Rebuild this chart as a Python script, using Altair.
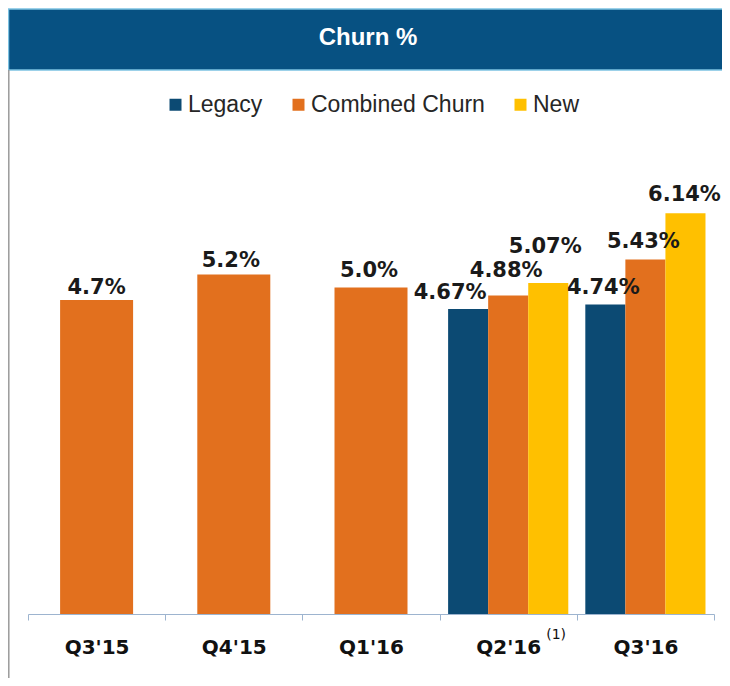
import altair as alt
import pandas as pd

# ---- data ----
TITLE = "Churn %"
quarters = ["Q3'15", "Q4'15", "Q1'16", "Q2'16", "Q3'16"]
series = ["Legacy", "Combined Churn", "New"]
colors = ["#0C4A73", "#E2701E", "#FFC000"]

legacy = [None, None, None, 4.67, 4.74]
legacy_labels = [None, None, None, "4.67%", "4.74%"]
combined = [4.81, 5.2, 5.0, 4.88, 5.43]
combined_labels = ["4.7%", "5.2%", "5.0%", "4.88%", "5.43%"]
new = [None, None, None, 5.07, 6.14]
new_labels = [None, None, None, "5.07%", "6.14%"]
footnote_quarter = "Q2'16"
footnote_text = "(1)"

rows = []
for i, q in enumerate(quarters):
    grouped = legacy[i] is not None
    for s, vals, labs in [("Legacy", legacy, legacy_labels),
                          ("Combined Churn", combined, combined_labels),
                          ("New", new, new_labels)]:
        if vals[i] is not None:
            rows.append({"quarter": q, "series": s, "value": vals[i],
                         "label": labs[i], "grouped": grouped})
df = pd.DataFrame(rows)
single = df[~df["grouped"]]
multi = df[df["grouped"]]

# ---- styling ----
LABEL_FONT = "DejaVu Sans"
NUDGE_DEFAULT = (-2, -11)
NUDGE = {"4.67%": (-18, -10), "4.88%": (-2, -18), "5.07%": (-3, -30),
         "4.7%": (0, -6), "5.2%": (-3, -8), "6.14%": (-1, -12)}

X = alt.X("quarter:N",
          scale=alt.Scale(domain=quarters, paddingInner=0, paddingOuter=0),
          axis=alt.Axis(title=None, labelAngle=0, domainColor="#9DB4CF",
                        domainWidth=1.2, tickColor="#9DB4CF", tickSize=6,
                        tickBand="extent", labelFont=LABEL_FONT,
                        labelFontSize=20, labelFontWeight="bold",
                        labelColor="#111111", labelBaseline="alphabetic",
                        labelPadding=33, grid=False))
Y = alt.Y("value:Q", scale=alt.Scale(domain=[0, 7], nice=False, zero=True),
          axis=None)
XO = alt.XOffset("series:N",
                 scale=alt.Scale(domain=series, paddingInner=0,
                                 paddingOuter=0.2125))
COLOR = alt.Color("series:N",
                  scale=alt.Scale(domain=series, range=colors),
                  legend=alt.Legend(title=None, orient="none",
                                    direction="horizontal",
                                    legendX=136, legendY=-64,
                                    symbolType="square", symbolSize=144,
                                    symbolStrokeWidth=0, labelOffset=1,
                                    columnPadding=24, padding=0,
                                    labelLimit=0,
                                    labelFont="Liberation Sans",
                                    labelFontSize=23, labelColor="#262626",
                                    labelBaseline="middle"))

deco = pd.DataFrame({"t": [TITLE]})

title_bar = alt.Chart(deco).mark_rect(
    color="#075182", stroke="#7CC2E2", strokeWidth=1.5
).encode(x=alt.value(-19.5), x2=alt.value(720),
         y=alt.value(-148), y2=alt.value(-87))

title_text = alt.Chart(deco).mark_text(
    font="Liberation Sans", fontSize=24, fontWeight="bold", color="white",
    align="center", baseline="middle"
).encode(x=alt.value(340), y=alt.value(-119), text="t:N")

border = alt.Chart(deco).mark_rule(color="#9A9A9A", strokeWidth=1.5).encode(
    x=alt.value(-19.2), y=alt.value(-87), y2=alt.value(521))

bars_single = alt.Chart(single).mark_bar(size=73).encode(
    x=X, y=Y, color=COLOR)
bars_multi = alt.Chart(multi).mark_bar().encode(
    x=X, xOffset=XO, y=Y, color=COLOR)


def label_layers(sub, grouped):
    layers = []
    groups = {}
    for _, r in sub.iterrows():
        groups.setdefault(NUDGE.get(r["label"], NUDGE_DEFAULT), []).append(r["label"])
    for (dx, dy), labs in groups.items():
        part = sub[sub["label"].isin(labs)]
        enc = dict(x=X, y=Y, text="label:N")
        if grouped:
            enc["xOffset"] = XO
        layers.append(alt.Chart(part).mark_text(
            font=LABEL_FONT, fontSize=21, fontWeight="bold", color="#1a1a1a",
            align="center", baseline="alphabetic", dx=dx, dy=dy
        ).encode(**enc))
    return layers


foot = pd.DataFrame({"quarter": [footnote_quarter], "t": [footnote_text]})
footnote = alt.Chart(foot).mark_text(
    font=LABEL_FONT, fontSize=14, color="#111111", align="left",
    baseline="alphabetic", dx=38
).encode(x=X, y=alt.value(482), text="t:N")

chart = alt.layer(
    title_bar, title_text, border, bars_single, bars_multi,
    *label_layers(single, False), *label_layers(multi, True), footnote
).properties(
    width=686, height=457,
    autosize=alt.AutoSizeParams(type="none"),
    padding={"left": 20, "top": 149, "right": 8, "bottom": 64}
).configure_view(stroke=None)

chart.save("out.html", embed_options={"renderer": "svg", "actions": False})
